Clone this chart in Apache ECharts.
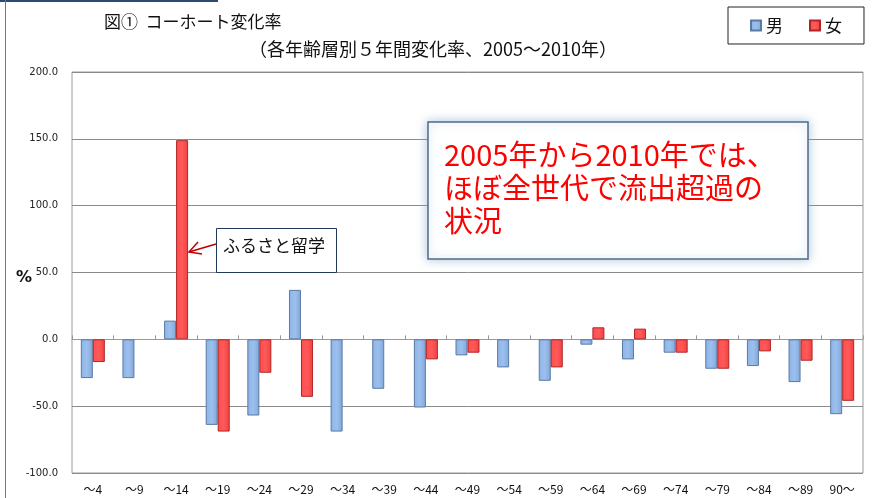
<!DOCTYPE html>
<html><head><meta charset="utf-8">
<script src="https://cdn.jsdelivr.net/npm/echarts@6/dist/echarts.min.js"></script>
<style>html,body{margin:0;padding:0;background:#fff}#c{width:882px;height:498px}</style>
</head><body><div id="c"></div>
<script>
const categories = ['～4','～9','～14','～19','～24','～29','～34','～39','～44','～49','～54','～59','～64','～69','～74','～79','～84','～89','90～'];
const male   = [-29, -29, 14, -64, -57, 37, -69, -37, -51, -12, -21, -31, -4, -15, -10, -22, -20, -32, -56];
const female = [-17, null, 149, -69, -25, -43, null, null, -15, -10, null, -21, 9, 8, -10, -22, -9, -16, -46];
const yTicks = [-100, 200, 50];

const JP = '"Noto Sans CJK JP", sans-serif';
const chart = echarts.init(document.getElementById('c'));
chart.setOption({
  animation: false,
  backgroundColor: '#fff',
  textStyle: { fontFamily: JP },
  title: [
    { text: '図①  コーホート変化率', left: 99, top: 8, textStyle: { fontSize: 17, fontWeight: 'normal', color: '#111', fontFamily: JP } },
    { text: '（各年齢層別５年間変化率、2005～2010年）', left: 244, top: 35, textStyle: { fontSize: 18, fontWeight: 'normal', color: '#111', fontFamily: JP } },
    { text: '%', left: 11, top: 265, textStyle: { fontSize: 16, fontWeight: 'bold', color: '#111', fontFamily: 'DejaVu Sans' } }
  ],
  legend: {
    data: ['男', '女'], left: 728, top: 7, itemWidth: 10, itemHeight: 10, itemGap: 26, icon: 'rect',
    borderColor: '#222', borderWidth: 1, padding: [10, 22, 10, 22],
    textStyle: { fontSize: 17, color: '#111', fontFamily: JP }
  },
  grid: { left: 72, right: 19, top: 72, bottom: 25, show: true, borderColor: '#9a9a9a', borderWidth: 1 },
  xAxis: [
    { type: 'category', data: categories, position: 'bottom',
      axisLine: { onZero: false, show: false }, axisTick: { show: false },
      axisLabel: { fontSize: 12, color: '#111', margin: 10, interval: 0, fontFamily: JP } },
    { type: 'category', data: categories, position: 'bottom',
      axisLine: { onZero: true, lineStyle: { color: '#9a9a9a' } },
      axisTick: { show: true, inside: true, length: 4, lineStyle: { color: '#9a9a9a' } },
      axisLabel: { show: false } }
  ],
  yAxis: {
    type: 'value', min: yTicks[0], max: yTicks[1], interval: yTicks[2],
    axisLine: { show: false }, axisTick: { show: false },
    axisLabel: { fontSize: 10, color: '#222', fontFamily: 'DejaVu Sans', formatter: v => v.toFixed(1), margin: 14 },
    splitLine: { lineStyle: { color: '#8a8a8a' } }
  },
  series: [
    { name: '男', type: 'bar', data: male, xAxisIndex: 0, barWidth: 12, barGap: '0%',
      itemStyle: { color: new echarts.graphic.LinearGradient(0,0,1,0,[{offset:0,color:'#8db3e6'},{offset:0.5,color:'#9cc0ee'},{offset:1,color:'#82a8d8'}]), borderColor: '#5a7aa6', borderWidth: 1 } },
    { name: '女', type: 'bar', data: female, xAxisIndex: 0, barWidth: 12,
      itemStyle: { color: new echarts.graphic.LinearGradient(0,0,1,0,[{offset:0,color:'#ff4c4c'},{offset:0.5,color:'#ff5a5a'},{offset:1,color:'#f04040'}]), borderColor: '#b02626', borderWidth: 1 } }
  ],
  graphic: [
    { type: 'rect', shape: { x: 0, y: 0, width: 218, height: 2 }, style: { fill: '#2e4a70' } },
    { type: 'line', shape: { x1: 5.5, y1: 0, x2: 5.5, y2: 498 }, style: { stroke: '#777', lineWidth: 1 } },
    { type: 'rect', shape: { x: 428, y: 122, width: 380, height: 137 },
      style: { fill: '#fff', stroke: '#4f6a8a', lineWidth: 1.5, shadowBlur: 10, shadowColor: 'rgba(120,170,200,0.6)' }, z: 100 },
    { type: 'text', left: 444, top: 138, z: 101,
      style: { text: '2005年から2010年では、\nほぼ全世代で流出超過の\n状況', fill: '#ff0000', fontSize: 29, lineHeight: 33, fontFamily: JP } },
    { type: 'rect', shape: { x: 216.5, y: 228.5, width: 120, height: 44 }, style: { fill: '#fff', stroke: '#1f3a5a', lineWidth: 1 }, z: 100 },
    { type: 'text', left: 223, top: 237, z: 101, style: { text: 'ふるさと留学', fill: '#111', fontSize: 17, fontFamily: JP } },
    { type: 'line', shape: { x1: 216, y1: 244, x2: 189, y2: 252 }, style: { stroke: '#c00000', lineWidth: 1.5 }, z: 101 },
    { type: 'polyline', shape: { points: [[198, 242], [189, 252], [202, 254]] }, style: { stroke: '#c00000', lineWidth: 1.5, fill: null }, z: 101 }
  ]
});
</script></body></html>
